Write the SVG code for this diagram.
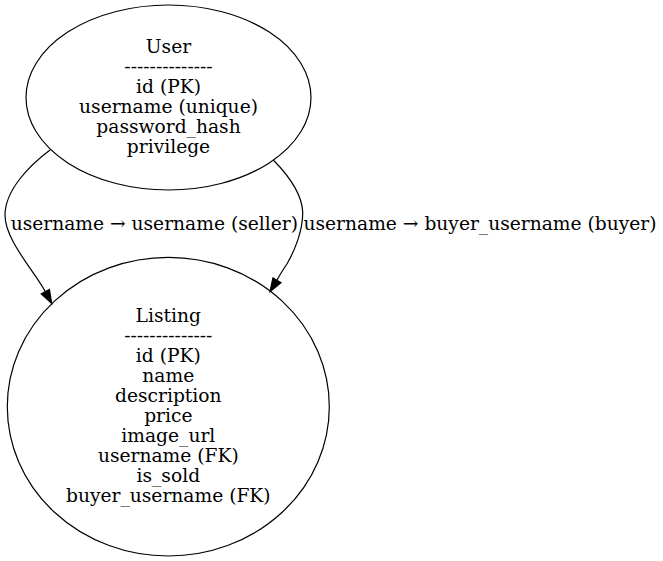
<svg xmlns="http://www.w3.org/2000/svg" width="663" height="561" viewBox="0 0 663 561">
<style>
.bg{fill:#ffffff}
.node ellipse{fill:none;stroke:#000;stroke-width:1.2}
text{font-family:"DejaVu Serif","Liberation Serif",serif;font-size:18.67px;fill:#000;text-anchor:middle}
.edge path{fill:none;stroke:#000;stroke-width:1.2}
.edge polygon{fill:#000;stroke:#000;stroke-width:1.2}
</style>
<rect class="bg" x="0" y="0" width="663" height="561"/>
<g id="User" class="node">
<ellipse cx="168.5" cy="97.5" rx="142.5" ry="92.5"/>
<text x="168.5" y="53">User</text>
<text x="168.5" y="73">--------------</text>
<text x="168.5" y="93">id (PK)</text>
<text x="168.5" y="113">username (unique)</text>
<text x="168.5" y="133">password_hash</text>
<text x="168.5" y="153">privilege</text>
</g>
<g id="Listing" class="node">
<ellipse cx="168.3" cy="406.7" rx="161" ry="149.3"/>
<text x="168.3" y="322.2">Listing</text>
<text x="168.3" y="342.2">--------------</text>
<text x="168.3" y="362.2">id (PK)</text>
<text x="168.3" y="382.2">name</text>
<text x="168.3" y="402.2">description</text>
<text x="168.3" y="422.2">price</text>
<text x="168.3" y="442.2">image_url</text>
<text x="168.3" y="462.2">username (FK)</text>
<text x="168.3" y="482.2">is_sold</text>
<text x="168.3" y="502.2">buyer_username (FK)</text>
</g>
<g id="connectors">
<g id="edge_seller" class="edge">
<path d="M50,150 C30,165 5,190 5,215 C5,240 33.3,269.7 45.3,291.6"/>
<polygon points="49.4,289.4 51.7,303.3 41.2,293.8"/>
<text x="154.3" y="230">username → username (seller)</text>
</g>
<g id="edge_buyer" class="edge">
<path d="M273.3,160 C290,177 302,195 302.7,212 C303,230 295,250 287.3,263.2 C283,270 279,276 276.9,280.3"/>
<polygon points="280.9,282.7 270,291.7 272.9,277.9"/>
<text x="480" y="230">username → buyer_username (buyer)</text>
</g>
</g>
</svg>
